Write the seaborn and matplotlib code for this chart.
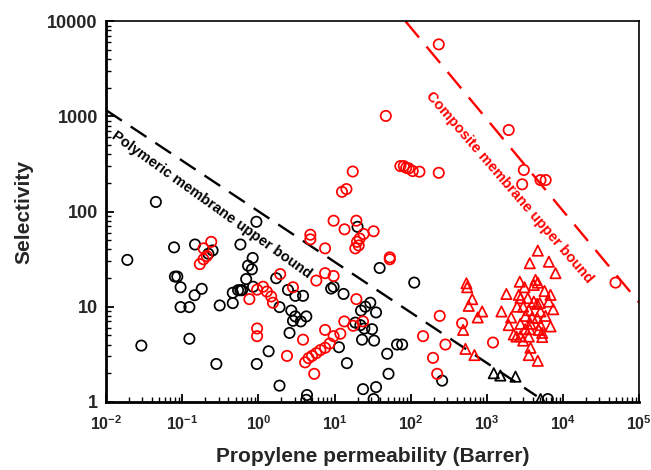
import numpy as np
import pandas as pd
import matplotlib
matplotlib.use("Agg")
import matplotlib.pyplot as plt
import seaborn as sns

sns.set_theme(style="white")
plt.rcParams['font.family'] = ['Liberation Sans', 'DejaVu Sans']
plt.rcParams['mathtext.fontset'] = 'custom'
plt.rcParams['mathtext.rm'] = 'Liberation Sans:bold'
plt.rcParams['mathtext.default'] = 'rm'

# Polymeric membranes (black circles)
poly_x = [0.019, 0.029, 0.045, 0.078, 0.080, 0.086, 0.095, 0.095, 0.124, 0.124, 0.147, 0.145,
          0.18, 0.25, 0.22, 0.31, 0.28, 0.46, 0.46, 0.54, 0.58, 0.61, 0.58, 0.84, 0.73, 0.82,
          0.69, 0.85, 0.95, 1.36, 0.94, 1.71, 2.44, 3.05, 3.85, 1.89, 2.7, 3.05, 2.84, 3.6,
          4.25, 2.56, 1.89, 4.34, 4.25, 9.0, 9.7, 13.1, 39, 29.4, 25.3, 22.2, 35, 18.7, 21.8,
          24.6, 31, 22.9, 33, 11.4, 14.5, 66, 77, 49, 51, 23.6, 35, 32.5, 111, 258, 6300, 20]
poly_y = [31, 3.9, 126, 42, 20.7, 20.7, 16, 9.9, 9.9, 4.6, 45, 13.2,
          15.4, 39, 36, 10.3, 2.5, 14, 10.9, 14.9, 14.9, 14.9, 45, 32.5, 27, 24.7,
          19.5, 16.2, 2.5, 3.4, 78, 19.9, 15, 13, 13, 9.9, 9.1, 7.9, 7.1, 7.0,
          7.9, 5.3, 1.48, 1.18, 1.05, 15.5, 16.2, 13.6, 25.5, 11, 10, 9.1, 8.7, 6.8, 6.4,
          5.9, 5.8, 4.5, 4.4, 3.75, 2.55, 4.0, 4.0, 3.2, 1.97, 1.36, 1.43, 1.07, 17.9, 1.67, 1.07, 69]

# Composite membranes (red circles)
comp_x = [0.24, 0.19, 0.21, 0.19, 0.17, 1.15, 1.29, 0.76, 0.96, 0.96, 0.96, 4.8, 4.8, 7.5,
          1.93, 7.5, 9.7, 5.75, 2.84, 1.47, 1.55, 19.3, 13.4, 23.6, 17.5, 7.5, 9.7, 11.9,
          3.85, 8.6, 7.5, 6.5, 5.75, 5.05, 4.55, 4.1, 2.37, 5.4, 19.7, 21.3, 24, 32.5, 18.7,
          20.7, 53, 53, 47, 17.3, 12.5, 14.3, 73, 81, 87, 94, 106, 130, 233, 9.7, 13.5, 19.3,
          233, 1930, 3050, 2900, 5050, 5900, 48800, 240, 472, 145, 285, 196, 222, 1200]
comp_y = [48, 41, 34, 31.5, 28, 16.2, 14.4, 12, 15.1, 5.9, 4.9, 57, 51, 41,
          22, 22.5, 21, 18.8, 16, 12.8, 11, 12, 7.0, 7.0, 6.3, 5.7, 4.9, 5.2,
          4.5, 4.1, 3.7, 3.5, 3.25, 3.04, 2.88, 2.6, 3.04, 1.97, 48, 52, 58, 62, 41,
          44, 33, 31.5, 1010, 263, 161, 172, 300, 300, 288, 284, 266, 262, 255, 80, 65, 80,
          5700, 718, 273, 193, 214, 214, 17.9, 8.0, 6.7, 4.9, 4.0, 2.9, 1.97, 4.2]

# Composite membranes (red triangles)
tri_x = [538, 550, 640, 576, 865, 757, 487, 522, 685, 1550, 1800, 4650, 3650, 6500, 7950,
         2700, 4340, 4650, 4120, 3110, 5700, 6830, 2620, 2760, 3440, 4120, 4570, 4940, 6490,
         2490, 2990, 3540, 5050, 7410, 2080, 3200, 3920, 4570, 5870, 2750, 3730, 5050, 6830,
         1930, 3200, 3650, 4800, 5310, 2250, 2440, 2750, 3540, 5310, 3730, 3540, 4650, 2990]
tri_y = [17.6, 16, 12, 10.2, 8.9, 7.7, 5.7, 3.6, 3.1, 8.9, 13.6, 38.8, 28.6, 29.7, 22.5,
         18.3, 19.1, 17.9, 16.9, 16, 14.6, 13.3, 13.3, 12.3, 12.3, 11.3, 10.7, 10.9, 11.3,
         10, 10, 9.2, 8.9, 9.4, 7.7, 8.0, 7.7, 7.6, 8.0, 6.6, 6.6, 6.4, 6.2,
         6.4, 5.8, 5.8, 5.7, 5.3, 5.1, 4.85, 4.9, 4.85, 4.8, 3.7, 3.1, 2.7, 4.4]

# Polymeric (black triangles)
ptri_x = [1230, 1500, 2370, 5050]
ptri_y = [2.0, 1.89, 1.84, 1.07]

# upper bound lines (end points)
poly_bound_x = [0.01, 4500]
poly_bound_y = [1160, 1.15]
comp_bound_x = [85, 1e5]
comp_bound_y = [10000, 11]

fig = plt.figure(figsize=(6.51, 4.70), dpi=100)
ax = fig.add_axes([0.163, 0.145, 0.819, 0.810])

groups = [(poly_x, poly_y, 'o', 'black'),
          (comp_x, comp_y, 'o', 'red'),
          (tri_x, tri_y, '^', 'red'),
          (ptri_x, ptri_y, '^', 'black')]
for gx, gy, mk, col in groups:
    df = pd.DataFrame({'x': gx, 'y': gy})
    sns.scatterplot(data=df, x='x', y='y', marker=mk, s=55, facecolors='none',
                    edgecolor=col, linewidth=1.25, ax=ax, zorder=3)

sns.lineplot(x=poly_bound_x, y=poly_bound_y, color='black', lw=1.7, ax=ax)
ax.lines[-1].set_dashes([8, 4.5])
sns.lineplot(x=comp_bound_x, y=comp_bound_y, color='red', lw=1.7, ax=ax)
ax.lines[-1].set_dashes([9, 5])

ax.set_xscale('log')
ax.set_yscale('log')
ax.set_xlim(1e-2, 1e5)
ax.set_ylim(1, 10000)

ax.set_yticks([1, 10, 100, 1000, 10000])
ax.set_yticklabels(['1', '10', '100', '1000', '10000'], fontweight='bold', fontsize=13)
xt = [1e-2, 1e-1, 1, 10, 100, 1e3, 1e4, 1e5]
ax.set_xticks(xt)
ax.set_xticklabels([r'$10^{%d}$' % e for e in range(-2, 6)], fontsize=11.5)

ax.tick_params(which='both', direction='in', left=True, bottom=True, top=False, right=False,
               color='black')
ax.tick_params(which='major', length=6, width=1.3)
ax.tick_params(axis='y', which='major', pad=6)
ax.tick_params(axis='x', which='major', pad=9)
ax.tick_params(which='minor', length=3.5, width=1.0)
for s in ['left', 'bottom']:
    ax.spines[s].set_linewidth(2)
for s in ['top', 'right']:
    ax.spines[s].set_linewidth(1.2)
for s in ax.spines.values():
    s.set_color('black')

ax.set_xlabel('Propylene permeability (Barrer)', fontsize=15, fontweight='bold', labelpad=10)
ax.set_ylabel('Selectivity', fontsize=15, fontweight='bold', labelpad=10)

ax.text(0.24, 118, 'Polymeric membrane upper bound', rotation=-35.6, rotation_mode='anchor',
        ha='center', va='center', fontsize=10.5, fontweight='bold', color='black')
ax.text(1950, 178, 'Composite membrane upper bound', rotation=-49.2, rotation_mode='anchor',
        ha='center', va='center', fontsize=10.5, fontweight='bold', color='red')

fig.savefig('out.png', dpi=100)
